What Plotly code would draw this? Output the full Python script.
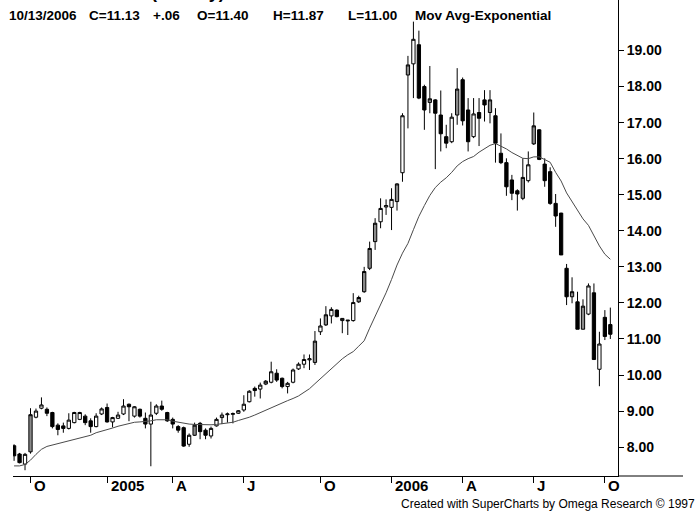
import plotly.graph_objects as go
import pandas as pd

# ---------------- data (weekly bars) ----------------
END_DATE = "2006-10-13"

OPEN = [8.04, 7.81, 7.53, 7.87, 8.83, 9.08, 9.05, 8.96, 8.61, 8.59,
        8.52, 8.68, 8.77, 8.86, 8.73, 8.57, 8.92, 9.10, 8.70, 8.80,
        8.92, 9.19, 8.86, 9.05, 8.80, 8.64, 8.94, 9.14, 8.96, 8.77,
        8.57, 8.54, 8.08, 8.33, 8.66, 8.47, 8.31, 8.59, 8.82, 8.90,
        8.91, 8.94, 9.03, 9.26, 9.63, 9.61, 9.75, 9.80, 10.05, 9.91,
        9.68, 9.80, 10.17, 10.30, 10.42, 10.35, 11.20, 11.39, 11.64, 11.80,
        11.51, 11.50, 11.51, 12.03, 12.31, 12.96, 13.70, 14.25, 14.66, 14.65,
        14.81, 15.61, 18.32, 18.63, 19.16, 18.00, 17.56, 17.63, 17.21, 16.61,
        16.47, 17.21, 18.19, 17.35, 16.61, 17.28, 17.63, 17.28, 17.19, 16.15,
        15.89, 15.41, 15.11, 14.90, 15.39, 16.41, 16.80, 15.85, 15.64, 14.76,
        14.49, 12.96, 12.17, 12.03, 11.27, 11.69, 12.28, 10.16, 11.60, 11.40]

HIGH = [8.08, 7.84, 7.84, 9.08, 9.07, 9.38, 9.10, 8.98, 8.66, 8.68,
        8.94, 8.98, 8.98, 8.91, 8.80, 8.94, 9.10, 9.21, 8.84, 8.98,
        9.33, 9.21, 9.14, 9.07, 8.96, 9.26, 9.19, 9.29, 8.98, 8.82,
        8.61, 8.57, 8.38, 8.68, 8.70, 8.52, 8.57, 8.82, 8.96, 8.96,
        8.96, 9.03, 9.44, 9.58, 9.68, 9.79, 9.86, 10.37, 10.16, 9.93,
        9.81, 10.18, 10.35, 10.57, 10.57, 11.22, 11.57, 11.91, 11.88, 11.82,
        11.58, 11.52, 12.27, 12.20, 13.00, 13.70, 14.35, 14.90, 14.87, 15.18,
        15.32, 17.26, 18.85, 19.80, 19.55, 18.05, 18.57, 17.65, 17.89, 16.94,
        17.26, 18.51, 18.25, 17.68, 17.68, 17.68, 17.90, 17.90, 17.40, 16.70,
        16.01, 15.55, 15.15, 16.01, 16.20, 17.28, 16.82, 16.01, 15.76, 15.02,
        14.50, 13.08, 12.71, 12.31, 12.10, 12.54, 12.54, 11.20, 11.80, 11.87]

LOW = [7.62, 7.55, 7.36, 7.82, 8.80, 9.05, 8.86, 8.52, 8.33, 8.40,
       8.49, 8.66, 8.75, 8.61, 8.40, 8.55, 8.89, 8.68, 8.55, 8.78,
       8.89, 8.72, 8.82, 8.82, 8.52, 7.47, 8.89, 9.01, 8.70, 8.52,
       8.40, 8.01, 8.01, 8.31, 8.22, 8.22, 8.24, 8.57, 8.64, 8.68,
       8.66, 8.92, 8.98, 9.24, 9.40, 9.35, 9.72, 9.77, 9.81, 9.63,
       9.49, 9.77, 10.14, 10.19, 10.14, 10.28, 11.11, 11.36, 11.43, 11.60,
       11.16, 11.11, 11.48, 12.00, 12.28, 12.91, 13.47, 14.07, 14.44, 14.02,
       14.56, 15.36, 16.84, 17.68, 17.65, 16.80, 17.26, 15.71, 16.20, 16.29,
       16.43, 16.94, 16.92, 16.20, 16.57, 16.35, 17.03, 16.98, 15.89, 15.85,
       14.97, 14.85, 14.56, 14.85, 15.34, 16.38, 15.96, 15.22, 14.72, 14.11,
       13.33, 11.94, 11.99, 11.27, 11.27, 11.66, 10.42, 9.69, 10.97, 11.00]

CLOSE = [7.76, 7.57, 7.80, 8.90, 9.00, 9.17, 8.94, 8.57, 8.49, 8.52,
         8.75, 8.96, 8.96, 8.68, 8.57, 8.86, 9.06, 8.70, 8.82, 8.89,
         9.14, 9.12, 9.12, 8.86, 8.64, 8.89, 9.14, 9.05, 8.73, 8.64,
         8.47, 8.03, 8.33, 8.61, 8.43, 8.33, 8.52, 8.77, 8.89, 8.92,
         8.93, 9.01, 9.19, 9.55, 9.57, 9.72, 9.83, 10.09, 9.86, 9.68,
         9.77, 10.14, 10.30, 10.43, 10.45, 10.94, 11.36, 11.67, 11.82, 11.62,
         11.57, 11.52, 12.01, 12.15, 12.87, 13.51, 14.21, 14.62, 14.70, 14.87,
         15.30, 17.19, 18.60, 19.31, 17.68, 17.35, 17.66, 17.26, 16.69, 16.43,
         17.15, 17.93, 17.05, 16.47, 17.24, 17.12, 17.49, 17.63, 16.43, 15.89,
         15.22, 15.04, 15.02, 15.48, 15.83, 16.91, 15.98, 15.39, 14.76, 14.41,
         13.33, 12.17, 12.31, 11.27, 11.91, 12.47, 10.43, 10.86, 11.07, 11.13]

# candle body style: W = hollow, G = gray filled, B = black filled
STYLE = list("BBWGWWBBBB"
             "WWWBBWWBWW"
             "WBWBBWWBBB"
             "BBWGBBWWWW"
             "WWWWBWGWBB"
             "WWWWWGWGWB"
             "WWWGGGGWWW"
             "GWGWBBGBBB"
             "WGBBWBBGBB"
             "BBBGWGBBBB"
             "BBGBGWBWBB")

MA = [7.48, 7.48, 7.52, 7.64, 7.80, 7.94, 8.02, 8.06, 8.09, 8.13,
      8.17, 8.21, 8.26, 8.30, 8.33, 8.40, 8.44, 8.47, 8.53, 8.58,
      8.62, 8.67, 8.69, 8.70, 8.71, 8.73, 8.76, 8.77, 8.76, 8.72,
      8.69, 8.66, 8.64, 8.63, 8.62, 8.62, 8.62, 8.63, 8.65, 8.67,
      8.69, 8.74, 8.78, 8.83, 8.89, 8.96, 9.02, 9.09, 9.16, 9.23,
      9.29, 9.35, 9.42, 9.52, 9.62, 9.76, 9.90, 10.03, 10.17, 10.32,
      10.45, 10.56, 10.65, 10.80, 10.95, 11.30, 11.62, 11.92, 12.28, 12.65,
      13.05, 13.38, 13.65, 14.03, 14.40, 14.70, 14.98, 15.20, 15.35, 15.47,
      15.62, 15.80, 15.92, 16.00, 16.06, 16.18, 16.28, 16.37, 16.42, 16.35,
      16.27, 16.17, 16.08, 16.01, 16.00, 16.05, 16.05, 15.98, 15.90, 15.62,
      15.38, 15.05, 14.80, 14.55, 14.33, 14.15, 13.85, 13.58, 13.35, 13.21]

TICK_LABELS = ["O", "2005", "A", "J", "O", "2006", "A", "J", "O"]
Y_TICKS = [8, 9, 10, 11, 12, 13, 14, 15, 16, 17, 18, 19]

TITLE_PARTS = ["10/13/2006", "C=11.13", "+.06", "O=11.40", "H=11.87",
               "L=11.00", "Mov Avg-Exponential"]
TITLE_CX_PX = [43, 114, 167, 222, 298, 372, 483]
COPYRIGHT = "Created with SuperCharts by Omega Research \u00a9 1997"
SUBTITLE = "(Weekly)"

# ---------------- figure ----------------
W, H = 698, 512
ML, MR, MT, MB = 13, 80, 0, 36
PW = W - ML - MR
PH = H - MT - MB

dates = pd.date_range(end=END_DATE, periods=len(CLOSE), freq="W-FRI")
idx_all = list(range(len(CLOSE)))
tick_idx = [i for i in range(1, len(dates))
            if dates[i].month != dates[i - 1].month and dates[i].month in (1, 4, 7, 10)]

XR = [-0.2, 110.4]
YR = [7.20, 20.40]


def px_to_paper_x(px):
    return (px - ML) / PW


def px_to_paper_y(py):
    return (H - MB - py) / PH


fig = go.Figure()

fills = {"W": "white", "G": "#8a8a8a", "B": "black"}
for key in ["W", "G", "B"]:
    ids = [i for i in idx_all if STYLE[i] == key]
    fig.add_trace(go.Candlestick(
        x=ids,
        open=[OPEN[i] for i in ids],
        high=[HIGH[i] for i in ids],
        low=[LOW[i] for i in ids],
        close=[CLOSE[i] for i in ids],
        increasing=dict(line=dict(color="black", width=1), fillcolor=fills[key]),
        decreasing=dict(line=dict(color="black", width=1), fillcolor=fills[key]),
        whiskerwidth=0,
        showlegend=False,
        hoverinfo="skip",
    ))

fig.add_trace(go.Scatter(
    x=idx_all, y=MA, mode="lines",
    line=dict(color="#4a4a4a", width=1),
    showlegend=False, hoverinfo="skip",
))

annotations = []
for txt, xp in zip(TITLE_PARTS, TITLE_CX_PX):
    annotations.append(dict(
        text=txt, xref="paper", yref="paper",
        x=px_to_paper_x(xp), y=px_to_paper_y(15),
        xanchor="center", yanchor="middle", showarrow=False, borderpad=0,
        font=dict(family="Liberation Sans", size=13.5, color="black", weight="bold"),
    ))
annotations.append(dict(
    text=SUBTITLE, xref="paper", yref="paper",
    x=px_to_paper_x(150), y=px_to_paper_y(3),
    xanchor="left", yanchor="bottom", showarrow=False, borderpad=0,
    font=dict(family="Liberation Sans", size=18, color="black", weight="bold"),
))
for ti, lab in zip(tick_idx, TICK_LABELS):
    annotations.append(dict(
        text=lab, xref="x", yref="paper",
        x=ti + 0.45, y=px_to_paper_y(485.5),
        xanchor="left", yanchor="middle", showarrow=False, borderpad=0,
        font=dict(family="Liberation Sans", size=15, color="black", weight="bold"),
    ))
annotations.append(dict(
    text=COPYRIGHT, xref="paper", yref="paper",
    x=px_to_paper_x(696), y=px_to_paper_y(503.5),
    xanchor="right", yanchor="middle", showarrow=False, borderpad=0,
    font=dict(family="Liberation Sans", size=12, color="black"),
))

fig.update_layout(
    width=W, height=H,
    margin=dict(l=ML, r=MR, t=MT, b=MB, pad=0),
    paper_bgcolor="white", plot_bgcolor="white",
    boxgap=0.2, boxgroupgap=0.25,
    showlegend=False,
    annotations=annotations,
    shapes=[dict(type="line", xref="paper", yref="paper",
                 x0=1, x1=px_to_paper_x(683), y0=0, y1=0,
                 line=dict(color="black", width=1))],
    xaxis=dict(
        range=XR, showgrid=False, zeroline=False,
        showline=True, linecolor="black", linewidth=1,
        tickvals=tick_idx, ticktext=[""] * len(tick_idx),
        ticks="outside", ticklen=6, tickcolor="black",
        rangeslider=dict(visible=False), fixedrange=True,
    ),
    yaxis=dict(
        range=YR, side="right", showgrid=False, zeroline=False,
        showline=True, linecolor="black", linewidth=1,
        tickvals=Y_TICKS, tickformat=".2f",
        ticks="outside", ticklen=5, tickcolor="black",
        tickfont=dict(family="Liberation Sans", size=14, color="black", weight="bold"),
        fixedrange=True,
    ),
)

fig.write_html(
    "out.html",
    config={"displayModeBar": False, "staticPlot": True},
    post_script="document.body.style.margin='0';document.body.style.overflow='hidden';",
)
